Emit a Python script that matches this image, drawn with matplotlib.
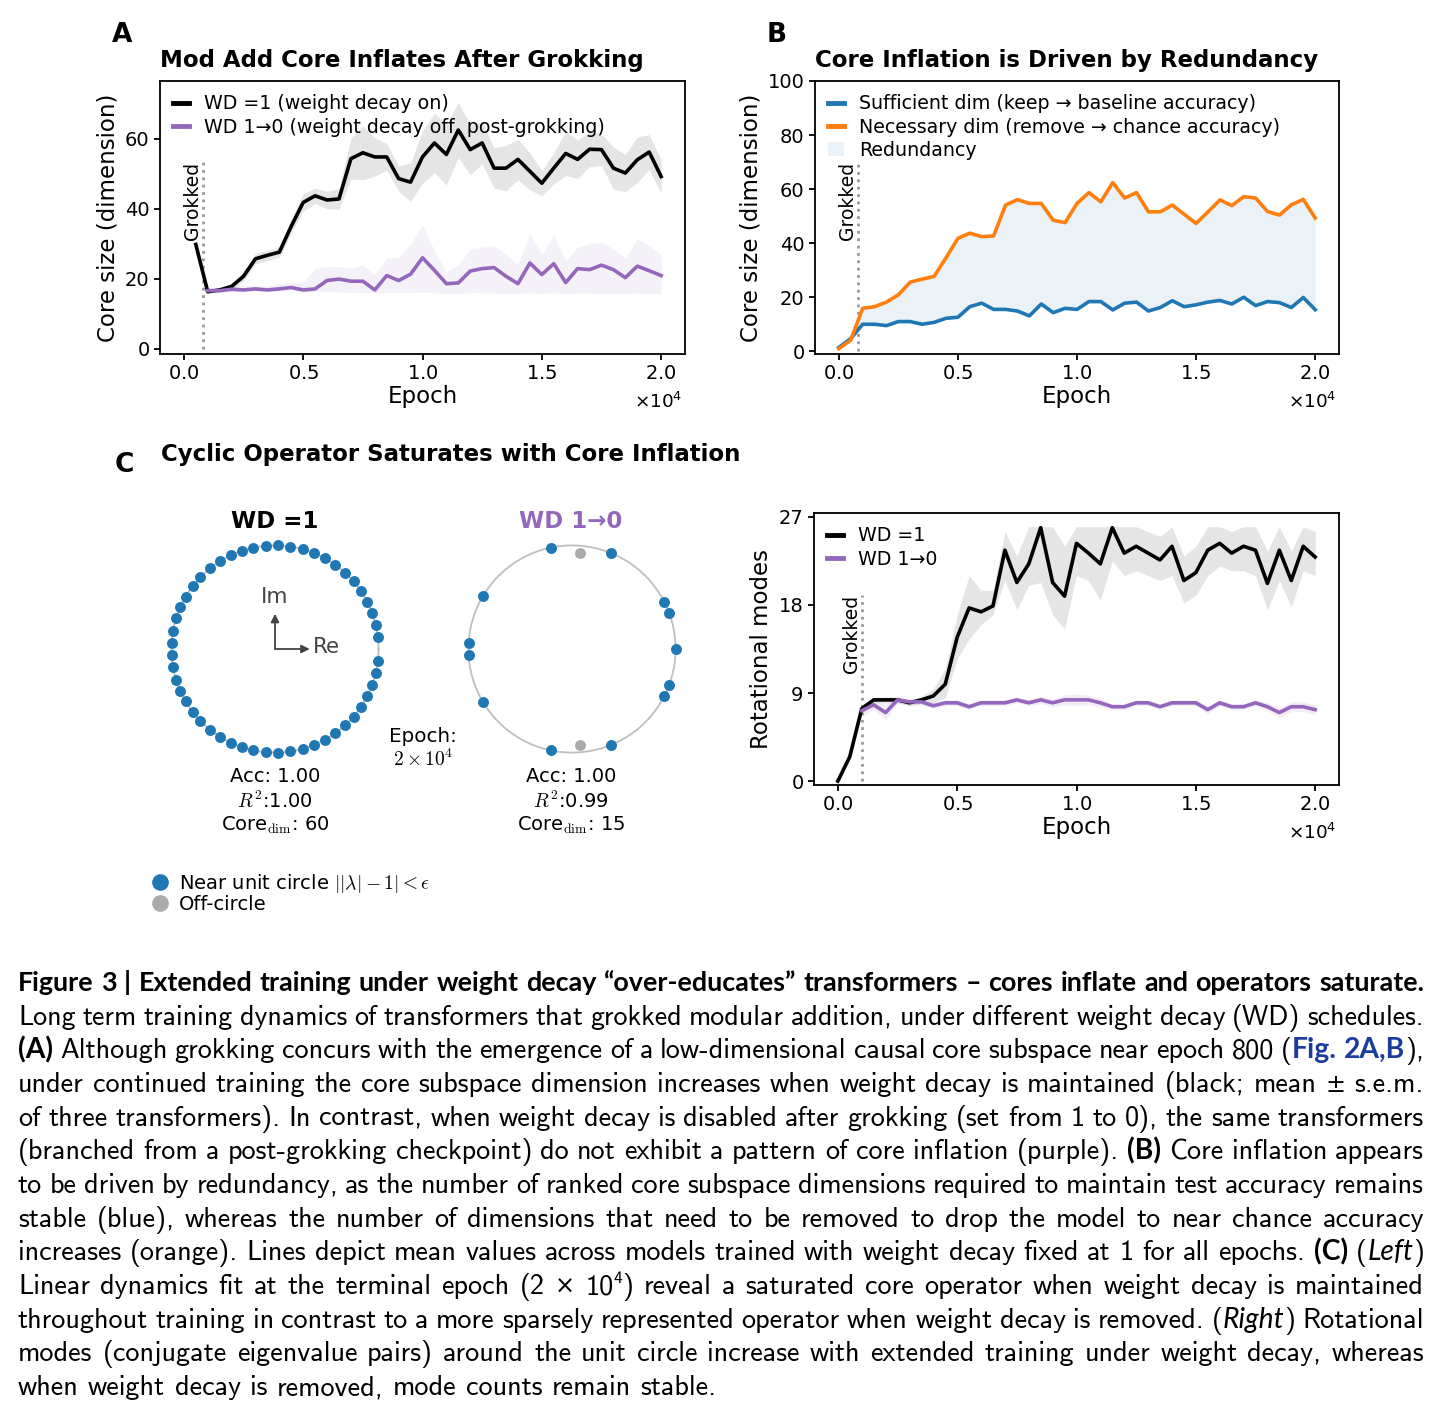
import re
import numpy as np
import matplotlib
matplotlib.use("Agg")
import matplotlib.pyplot as plt
from matplotlib.lines import Line2D
from matplotlib.patches import Patch
from matplotlib.transforms import ScaledTranslation

W, H = 1442, 1419
BLUE = "#1f77b4"
ORANGE = "#ff7f0e"
PURPLE = "#9467bd"

# ---- data ----
epochs = np.arange(0, 20001, 500)          # 0, 500, ..., 20000

# panel A: core size, WD=1 (from epoch 500) and WD 1->0 (from epoch 1000)
a_wd1 = np.array([29.8, 16.3, 16.8, 17.8, 20.7, 25.7, 26.7, 27.6, 35.0, 41.8,
                  43.7, 42.5, 42.8, 54.3, 56.0, 54.8, 54.8, 48.6, 47.6, 54.8,
                  58.8, 55.5, 62.5, 56.9, 58.8, 51.6, 51.6, 54.1, 50.7, 47.3,
                  51.6, 55.8, 54.1, 57.0, 56.9, 51.6, 50.2, 54.0, 56.2, 49.2])
a_wd1_sem = np.array([0.5, 0.5, 0.7, 1.0, 1.4, 1.5, 1.5, 1.5, 2.0, 2.5,
                      2.2, 2.5, 3.0, 5.8, 7.7, 5.5, 3.8, 3.6, 5.5, 7.5,
                      8.5, 8.7, 7.9, 7.2, 6.0, 5.8, 6.5, 5.8, 5.3, 3.6,
                      4.5, 6.3, 5.5, 5.0, 4.6, 6.0, 5.3, 6.5, 5.0, 4.8])
a_wd0 = np.array([16.6, 16.6, 17.0, 16.8, 17.1, 16.8, 17.1, 17.5, 16.8, 17.1,
                  19.5, 19.9, 19.3, 19.3, 16.8, 20.9, 19.5, 21.3, 26.0, 22.4,
                  18.6, 18.8, 22.2, 22.9, 23.2, 20.7, 18.6, 24.5, 21.2, 24.3,
                  18.9, 22.9, 22.6, 23.9, 22.6, 20.3, 23.6, 22.3, 20.9])
a_wd0_hi = np.array([17.5, 17.5, 18.0, 18.0, 18.0, 18.0, 18.5, 19.0, 19.0, 23.0,
                     23.5, 23.5, 23.0, 24.0, 21.0, 26.0, 26.0, 30.0, 35.5, 28.0,
                     22.0, 24.0, 28.5, 29.0, 29.5, 27.0, 24.0, 33.0, 27.0, 32.5,
                     25.0, 29.0, 30.0, 30.5, 28.5, 26.0, 31.5, 29.5, 27.0])
a_wd0_lo = np.array([16.2, 16.3, 16.4, 16.3, 16.4, 16.3, 16.4, 16.5, 16.2, 16.3,
                     16.3, 16.2, 16.0, 16.0, 15.9, 16.0, 16.0, 16.0, 16.2, 16.0,
                     15.8, 15.8, 16.0, 16.0, 15.9, 15.8, 15.8, 16.0, 15.8, 16.0,
                     15.8, 15.9, 15.9, 15.8, 15.8, 15.8, 15.9, 15.8, 15.8])

# panel B: sufficient / necessary dims
b_suff = np.array([1.4, 4.7, 10.0, 10.0, 9.5, 11.0, 11.0, 10.0, 10.7, 12.2,
                   12.6, 16.5, 17.8, 15.5, 15.5, 14.9, 13.1, 17.5, 14.3, 15.9,
                   15.5, 18.4, 18.4, 15.3, 17.8, 18.2, 14.9, 16.2, 18.7, 16.5,
                   17.2, 18.2, 18.8, 17.5, 20.0, 16.9, 18.4, 18.0, 16.2, 19.9, 15.4])
b_nec = np.array([1.0, 4.1, 15.9, 16.5, 18.2, 20.9, 25.6, 26.7, 27.7, 34.6,
                  41.8, 43.7, 42.4, 42.7, 54.1, 56.1, 54.7, 54.7, 48.5, 47.6,
                  54.7, 58.7, 55.3, 62.4, 56.7, 58.7, 51.6, 51.6, 54.1, 50.7,
                  47.3, 51.6, 56.0, 53.9, 57.2, 56.7, 51.7, 50.4, 54.2, 56.2, 49.3])

# panel C right: rotational modes
r_wd1 = np.array([0.0, 2.5, 7.4, 8.3, 8.3, 8.3, 8.0, 8.3, 8.7, 9.9,
                  14.7, 17.7, 17.3, 17.9, 23.6, 20.3, 22.2, 25.9, 20.3, 18.9,
                  24.3, 23.3, 22.2, 25.9, 23.3, 24.0, 23.3, 22.6, 24.0, 20.5,
                  21.3, 23.6, 24.3, 23.3, 24.0, 23.6, 20.2, 23.6, 20.5, 24.0, 22.9])
r_wd1_lo = np.array([0.0, 2.3, 7.0, 8.0, 8.0, 8.0, 7.7, 7.9, 8.0, 8.5,
                     12.5, 14.5, 16.0, 17.0, 20.5, 17.5, 20.0, 20.3, 17.0, 15.5,
                     21.0, 20.5, 18.5, 22.5, 21.0, 21.5, 21.0, 20.5, 21.0, 18.2,
                     19.0, 21.0, 22.0, 21.5, 21.5, 21.0, 17.5, 20.5, 17.8, 21.5, 21.0])
r_wd1_hi = np.array([0.0, 2.7, 7.8, 8.6, 8.6, 8.6, 8.3, 8.7, 9.4, 11.5,
                     17.0, 21.0, 19.5, 19.5, 25.5, 23.0, 26.0, 26.0, 26.0, 24.0,
                     26.0, 26.0, 26.0, 26.0, 26.0, 26.0, 25.5, 25.0, 26.0, 23.0,
                     24.0, 26.0, 26.0, 25.5, 26.0, 26.0, 23.5, 26.0, 23.5, 26.0, 25.5])
r_wd0 = np.array([7.2, 7.8, 7.0, 8.3, 8.1, 8.1, 7.7, 8.0, 8.0, 7.6,
                  8.0, 8.0, 8.0, 8.3, 8.0, 8.3, 8.0, 8.3, 8.3, 8.3,
                  8.0, 7.6, 7.6, 8.0, 8.0, 7.6, 8.0, 8.0, 8.0, 7.3,
                  8.0, 7.6, 7.6, 8.0, 7.6, 7.0, 7.6, 7.6, 7.3])
r_wd0_sem = np.array([0.6, 0.5, 0.8, 0.4, 0.3, 0.3, 0.3, 0.3, 0.3, 0.3,
                      0.3, 0.3, 0.3, 0.3, 0.3, 0.4, 0.4, 0.5, 0.6, 0.5,
                      0.4, 0.3, 0.3, 0.3, 0.3, 0.3, 0.3, 0.3, 0.3, 0.4,
                      0.3, 0.3, 0.3, 0.3, 0.4, 0.5, 0.5, 0.5, 0.5])

# eigenvalue angles (deg, upper half; conjugates mirrored)
wd1_angles = np.array([6.8, 13.5, 20.2, 27.2, 34.0, 40.7, 47.6, 54.4, 61.1, 67.9,
                       74.6, 81.5, 88.2, 95.0, 102.0, 108.6, 115.4, 122.0, 129.0,
                       136.0, 142.7, 149.6, 156.2, 162.7, 169.9, 176.7])
wd0_angles = np.array([20.3, 27.2, 67.9, 101.8, 149.5, 176.7])
wd0_real = [1.0]
wd0_off_angle, wd0_off_radius = 85.0, 0.93

GROK_AB = 800
GROK_R = 1000

TICK_FS = 14
LABEL_FS = 16.5
LEG_FS = 13.7
TITLE_FS = 16.5

fig = plt.figure(figsize=(W / 100, H / 100), dpi=100)


def fx(px):
    return px / W


def fy(py):
    return 1 - py / H


def box(l, t, r, b):
    return [fx(l), fy(b), (r - l) / W, (b - t) / H]


def style(ax):
    for s in ax.spines.values():
        s.set_linewidth(1.3)
    ax.tick_params(labelsize=TICK_FS, width=1.3, length=4)
    ax.set_xlim(-1000, 21000)
    ax.set_xticks([0, 5000, 10000, 15000, 20000])
    ax.ticklabel_format(axis="x", style="sci", scilimits=(0, 0), useMathText=True)
    ot = ax.xaxis.get_offset_text()
    ot.set_fontsize(13.2)
    ot.set_transform(ot.get_transform() + ScaledTranslation(-0.03, -0.04, fig.dpi_scale_trans))
    ax.set_xlabel("Epoch", fontsize=LABEL_FS, labelpad=1)


def grokked(ax, x, top):
    ax.vlines(x, 0, top, colors="0.6", linestyles=":", lw=2, zorder=1.5)
    ax.text(x - 30, top, "Grokked", rotation=90, ha="right", va="top", fontsize=13.5)


def legend(ax, *args):
    leg = ax.legend(*args, loc="upper left", fontsize=LEG_FS, frameon=False, handlelength=0.8,
                    handletextpad=0.8, labelspacing=0.22, borderaxespad=0.3)
    for h in leg.legend_handles:
        if isinstance(h, Line2D):
            h.set_linewidth(3.5)
    return leg


# ---- panel A ----
axA = fig.add_axes(box(160, 81, 685, 354))
style(axA)
axA.fill_between(epochs[1:], a_wd1 - a_wd1_sem, a_wd1 + a_wd1_sem, color="0.55", alpha=0.22, lw=0)
axA.fill_between(epochs[2:], a_wd0_lo, a_wd0_hi, color=PURPLE, alpha=0.09, lw=0)
axA.plot(epochs[1:], a_wd1, color="k", lw=2.6, label="WD =1 (weight decay on)")
axA.plot(epochs[2:], a_wd0, color=PURPLE, lw=2.6, label="WD 1→0 (weight decay off, post-grokking)")
grokked(axA, GROK_AB, 53.5)
axA.set_ylim(-1.5, 76.5)
axA.set_yticks([0, 20, 40, 60])
axA.set_ylabel("Core size (dimension)", fontsize=LABEL_FS)
legend(axA).set_zorder(1)
axA.set_title("Mod Add Core Inflates After Grokking", loc="left", fontsize=TITLE_FS,
              fontweight="bold", pad=10)

# ---- panel B ----
axB = fig.add_axes(box(815, 81, 1339, 354))
style(axB)
axB.fill_between(epochs, b_suff, b_nec, color=BLUE, alpha=0.09, lw=0)
l1, = axB.plot(epochs, b_suff, color=BLUE, lw=2.6)
l2, = axB.plot(epochs, b_nec, color=ORANGE, lw=2.6)
grokked(axB, GROK_AB, 70)
axB.set_ylim(-1, 100)
axB.set_yticks([0, 20, 40, 60, 80, 100])
axB.set_ylabel("Core size (dimension)", fontsize=LABEL_FS)
legend(axB, [l1, l2, Patch(color=BLUE, alpha=0.09, lw=0)],
       ["Sufficient dim (keep → baseline accuracy)",
        "Necessary dim (remove → chance accuracy)", "Redundancy"])
axB.set_title("Core Inflation is Driven by Redundancy", loc="left", fontsize=TITLE_FS,
              fontweight="bold", pad=10)

# ---- panel C right ----
axR = fig.add_axes(box(814, 513, 1339, 785))
style(axR)
axR.fill_between(epochs, r_wd1_lo, r_wd1_hi, color="0.55", alpha=0.22, lw=0)
axR.fill_between(epochs[2:], r_wd0 - r_wd0_sem, r_wd0 + r_wd0_sem, color=PURPLE, alpha=0.12, lw=0)
axR.plot(epochs, r_wd1, color="k", lw=2.6, label="WD =1")
axR.plot(epochs[2:], r_wd0, color=PURPLE, lw=2.6, label="WD 1→0")
grokked(axR, GROK_R, 19)
axR.set_ylim(-0.4, 27.4)
axR.set_yticks([0, 9, 18, 27])
axR.set_ylabel("Rotational modes", fontsize=LABEL_FS)
legend(axR)

# ---- panel C left: eigenvalue circles ----
theta = np.linspace(0, 2 * np.pi, 400)


def circle_axes(cx, cy=649):
    ax = fig.add_axes(box(cx - 130, cy - 130, cx + 130, cy + 130))
    ax.set_xlim(-1.255, 1.255)
    ax.set_ylim(-1.255, 1.255)
    ax.set_aspect("equal")
    ax.axis("off")
    ax.plot(np.cos(theta), np.sin(theta), color="0.75", lw=1.3, zorder=1)
    return ax


ax1 = circle_axes(275)
ang = np.deg2rad(np.concatenate([wd1_angles, -wd1_angles]))
ax1.scatter(np.cos(ang), np.sin(ang), s=62, color=BLUE, lw=0, zorder=3)
for dx, dy in [(0, 0.34), (0.335, 0)]:
    ax1.annotate("", xy=(dx, dy), xytext=(0, 0),
                 arrowprops=dict(arrowstyle="-|>", color="#444444", lw=1.3,
                                 shrinkA=0, shrinkB=0, mutation_scale=12))
ax1.text(0, 0.5, "Im", ha="center", va="center", fontsize=15.5, color="#444444")
ax1.text(0.37, 0.02, "Re", ha="left", va="center", fontsize=15.5, color="#444444")

ax2 = circle_axes(572)
ang = np.deg2rad(np.concatenate([wd0_angles, -wd0_angles]))
ax2.scatter(np.concatenate([np.cos(ang), wd0_real]), np.concatenate([np.sin(ang), [0.0]]),
            s=62, color=BLUE, lw=0, zorder=3)
off = np.deg2rad([wd0_off_angle, -wd0_off_angle])
ax2.scatter(wd0_off_radius * np.cos(off), wd0_off_radius * np.sin(off), s=62,
            color="#aaaaaa", lw=0, zorder=3)

fig.text(fx(275), fy(522), "WD =1", ha="center", va="center", fontsize=16.5, fontweight="bold")
fig.text(fx(571), fy(522), "WD 1→0", ha="center", va="center", fontsize=16.5,
         fontweight="bold", color=PURPLE)
for cx, r2, core in [(275, "1.00", "60"), (571, "0.99", "15")]:
    fig.text(fx(cx), fy(777), "Acc: 1.00", ha="center", va="center", fontsize=14)
    fig.text(fx(cx), fy(801), r"$R^2$:" + r2, ha="center", va="center", fontsize=14,
             math_fontfamily="cm")
    fig.text(fx(cx), fy(825), r"Core$_{\mathrm{dim}}$: " + core, ha="center", va="center",
             fontsize=14, math_fontfamily="cm")
fig.text(fx(423), fy(737), "Epoch:", ha="center", va="center", fontsize=14.3)
fig.text(fx(423), fy(759), r"$2\times10^4$", ha="center", va="center", fontsize=14,
         math_fontfamily="cm")

cleg = fig.legend([Line2D([], [], ls="", marker="o", ms=12, color=BLUE, mew=0),
                   Line2D([], [], ls="", marker="o", ms=12, color="#aaaaaa", mew=0)],
                  [r"Near unit circle $||\lambda|-1|<\epsilon$", "Off-circle"],
                  loc="upper left", bbox_to_anchor=(fx(155), fy(872)), frameon=False,
                  fontsize=14, handlelength=0.5, handletextpad=0.75, labelspacing=0.0,
                  borderaxespad=0, borderpad=0)
for t in cleg.get_texts():
    t.set_math_fontfamily("cm")

# ---- panel letters / titles ----
for x, y, s in [(122, 35, "A"), (777, 35, "B"), (124, 465, "C")]:
    fig.text(fx(x), fy(y), s, ha="center", va="center", fontsize=19, fontweight="bold")
fig.text(fx(161), fy(455), "Cyclic Operator Saturates with Core Inflation", ha="left",
         va="center", fontsize=TITLE_FS, fontweight="bold")

# ---- caption ----
caption_lines = [
    "**Figure 3 | Extended training under weight decay “over-educates” transformers – cores inflate and operators saturate.**",
    "Long term training dynamics of transformers that grokked modular addition, under different weight decay (WD) schedules.",
    "**(A)** Although grokking concurs with the emergence of a low-dimensional causal core subspace near epoch 800 (@@Fig. 2A,B@@),",
    "under continued training the core subspace dimension increases when weight decay is maintained (black; mean ~~±~~ s.e.m.",
    "of three transformers). In contrast, when weight decay is disabled after grokking (set from 1 to 0), the same transformers",
    "(branched from a post-grokking checkpoint) do not exhibit a pattern of core inflation (purple). **(B)** Core inflation appears",
    "to be driven by redundancy, as the number of ranked core subspace dimensions required to maintain test accuracy remains",
    "stable (blue), whereas the number of dimensions that need to be removed to drop the model to near chance accuracy",
    "increases (orange). Lines depict mean values across models trained with weight decay fixed at 1 for all epochs. **(C)** (__Left__)",
    "Linear dynamics fit at the terminal epoch (2 ~~×~~ 10^^4^^) reveal a saturated core operator when weight decay is maintained",
    "throughout training in contrast to a more sparsely represented operator when weight decay is removed. (__Right__) Rotational",
    "modes (conjugate eigenvalue pairs) around the unit circle increase with extended training under weight decay, whereas",
    "when weight decay is removed, mode counts remain stable.",
]

REG = dict(family=["cmss10", "DejaVu Sans"])
STYLES = {
    "r": REG,
    "sup": REG,
    "sym": dict(family=["DejaVu Sans"]),
    "b": dict(family=["Lato", "DejaVu Sans"], weight="bold"),
    "link": dict(family=["Lato", "DejaVu Sans"], weight="bold", color="#1a3c9c"),
    "i": dict(family=["Lato", "DejaVu Sans"], style="italic"),
}
SIZE_FACTOR = {"sup": 0.62, "sym": 0.85}
TOKEN = re.compile(r"\*\*(.+?)\*\*|@@(.+?)@@|__(.+?)__|\^\^(.+?)\^\^|~~(.+?)~~|([^*@_^~]+)")
rend = fig.canvas.get_renderer()


def parse(line):
    runs = []
    for m in TOKEN.finditer(line):
        for key, g in zip(["b", "link", "i", "sup", "sym", "r"], m.groups()):
            if g:
                runs.append((g, key))
    return runs


def caption_line(line, base_y, size, justify=True, x0=18, x1=1424):
    words = [[]]
    for text, st in parse(line):
        for k, part in enumerate(text.split(" ")):
            if k:
                words.append([])
            if part:
                words[-1].append((part, st))
    words = [w for w in words if w]
    arts = []
    for w in words:
        row = []
        for txt, st in w:
            t = fig.text(0, 0, txt, fontsize=size * SIZE_FACTOR.get(st, 1),
                         va="baseline", ha="left", **STYLES[st])
            row.append([t, st])
        arts.append(row)

    def widths():
        return [[t.get_window_extent(rend).width for t, _ in row] for row in arts]

    em = size * 100 / 72
    ws = widths()
    total = sum(sum(r) for r in ws)
    min_gap = 0.25 * em
    avail = x1 - x0 - min_gap * (len(words) - 1)
    if total > avail:
        scale = avail / total
        for row in arts:
            for t, _ in row:
                t.set_fontsize(t.get_fontsize() * scale)
        ws = widths()
        total = sum(sum(r) for r in ws)
    gap = (x1 - x0 - total) / (len(words) - 1) if justify else 0.333 * em
    x = x0
    for row, wr in zip(arts, ws):
        for (t, st), wpx in zip(row, wr):
            t.set_position((fx(x), fy(base_y - (11 if st == "sup" else 0))))
            x += wpx
        x += gap


for i, line in enumerate(caption_lines):
    caption_line(line, 991 + 33.67 * i, 20.3, justify=(i < len(caption_lines) - 1))

fig.savefig("out.png", dpi=100)
